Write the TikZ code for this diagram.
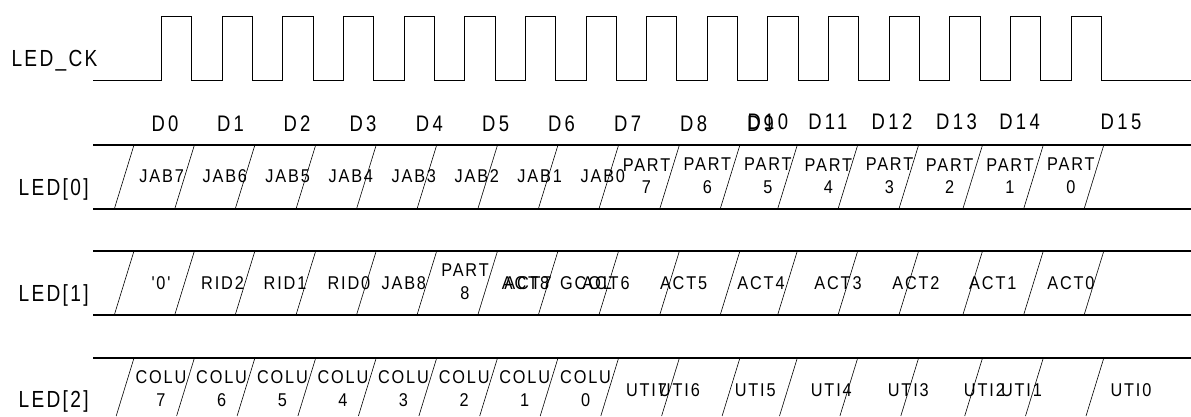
\documentclass[tikz,border=0pt]{standalone}
\usepackage{fontspec}
\setmainfont{Liberation Sans}
\newfontfamily\ledfont[LetterSpace=10,FakeStretch=0.82]{Liberation Sans}
\newfontfamily\tallfont[LetterSpace=15,FakeStretch=0.82]{Liberation Sans}
\newfontfamily\narrowfont[LetterSpace=10,FakeStretch=0.88]{Liberation Sans}
\newcommand{\ledsig}{\fontsize{23.3}{24}\ledfont}
\newcommand{\dsig}{\fontsize{22.5}{24}\tallfont}
\newcommand{\bitsig}{\fontsize{18.5}{22.6}\narrowfont}

\tikzset{
  ledtext/.style={anchor=base,inner sep=0pt,font=\ledsig},
  dtext/.style={anchor=base,inner sep=0pt,font=\dsig},
  bittext/.style={anchor=base,inner sep=0pt,font=\bitsig},
  twoline/.style={anchor=center,inner sep=0pt,align=center,font=\bitsig},
  bus/.style={line width=1.6pt},
  slant/.style={line width=0.6pt}
}

\begin{document}
\begin{tikzpicture}[x=1pt,y=-1pt]
   \useasboundingbox (0,0) rectangle (1191,416);

   % clock
   \coordinate (ckstart) at (93,80);
   \coordinate (ckend) at (1191,80);
   \draw [line width=0.7pt] (ckstart)
      \foreach \k in {0,...,15}{
         -- ({161.5+60.63*\k},80) -- ({161.5+60.63*\k},16)
         -- ({191.7+60.63*\k},16) -- ({191.7+60.63*\k},80)
      } -- (ckend);

   % bus lines
   \draw [bus] (93,145) -- (1191,145);
   \draw [bus] (93,209) -- (1191,209);
   \draw [bus] (93,251) -- (1191,251);
   \draw [bus] (93,315) -- (1191,315);
   \draw [bus] (93,358) -- (1191,358);

   % slants
   \foreach \x in {134,194.4,254.9,315.7,376.2,436.7,497.5,558,618.6,679.4,739.9,797.3,857.7,918.6,982.5,1043.3,1103.8}{
      \draw [slant] (\x,145) -- ({\x-19.7},209);
      \draw [slant] (\x,251) -- ({\x-19.7},315);
      \draw [slant] (\x,358) -- ({\x-17.8},416);
   }

   \node [ledtext] (ck) at (54.5,66) {LED\_CK};
   \node [ledtext] (led0) at (53.6,195) {LED[0]};
   \node [ledtext] (led1) at (53.6,301.7) {LED[1]};
   \node [ledtext] (led2) at (53.6,407.7) {LED[2]};

   \node [dtext] (D0) at (165,131) {D0};
   \node [dtext] (D1) at (230.5,131) {D1};
   \node [dtext] (D2) at (297,131) {D2};
   \node [dtext] (D3) at (363,131) {D3};
   \node [dtext] (D4) at (429.4,131) {D4};
   \node [dtext] (D5) at (495.6,131) {D5};
   \node [dtext] (D6) at (561.5,131) {D6};
   \node [dtext] (D7) at (627.7,131) {D7};
   \node [dtext] (D8) at (693.6,131) {D8};
   \node [dtext] (D9) at (760.5,131) {D9};
   \node [dtext] (D10) at (767.8,129.3) {D10};
   \node [dtext] (D11) at (827.9,129.3) {D11};
   \node [dtext] (D12) at (892,129.3) {D12};
   \node [dtext] (D13) at (956.5,129.3) {D13};
   \node [dtext] (D14) at (1019.6,129.3) {D14};
   \node [dtext] (D15) at (1121,129.3) {D15};

   \node [bittext] (jab7) at (161.6,182.3) {JAB7};
   \node [bittext] (jab6) at (224.8,182.3) {JAB6};
   \node [bittext] (jab5) at (287.6,182.3) {JAB5};
   \node [bittext] (jab4) at (350.8,182.3) {JAB4};
   \node [bittext] (jab3) at (413.8,182.3) {JAB3};
   \node [bittext] (jab2) at (476.8,182.3) {JAB2};
   \node [bittext] (jab1) at (539.7,182.3) {JAB1};
   \node [bittext] (jab0) at (602.8,182.3) {JAB0};
   \node [twoline] (part7) at (646.5,176) {PART\\7};
   \node [twoline] (part6) at (707.3,176) {PART\\6};
   \node [twoline] (part5) at (767.8,176) {PART\\5};
   \node [twoline] (part4) at (828.3,176) {PART\\4};
   \node [twoline] (part3) at (889.5,176) {PART\\3};
   \node [twoline] (part2) at (949.6,176) {PART\\2};
   \node [twoline] (part1) at (1010,176) {PART\\1};
   \node [twoline] (part0) at (1070.9,176) {PART\\0};

   \node [bittext] (zero) at (161,289.3) {'0'};
   \node [bittext] (rid2) at (222.5,289.3) {RID2};
   \node [bittext] (rid1) at (285,289.3) {RID1};
   \node [bittext] (rid0) at (348.9,289.3) {RID0};
   \node [bittext] (jab8) at (403.8,289.3) {JAB8};
   \node [twoline] (part8) at (465,281.8) {PART\\8};
   \node [bittext] (act8) at (525.5,289.3) {ACT8};
   \node [bittext] (act7) at (528,289.3) {ACT7};
   \node [bittext] (gcol) at (586,289.3) {GCOL};
   \node [bittext] (act6) at (606,289.3) {ACT6};
   \node [bittext] (act5) at (683.6,289.3) {ACT5};
   \node [bittext] (act4) at (761,289.3) {ACT4};
   \node [bittext] (act3) at (838,289.3) {ACT3};
   \node [bittext] (act2) at (915.9,289.3) {ACT2};
   \node [bittext] (act1) at (992.8,289.3) {ACT1};
   \node [bittext] (act0) at (1070.9,289.3) {ACT0};

   \node [twoline] (colu7) at (161,388.5) {COLU\\7};
   \node [twoline] (colu6) at (221.6,388.5) {COLU\\6};
   \node [twoline] (colu5) at (282.4,388.5) {COLU\\5};
   \node [twoline] (colu4) at (342.9,388.5) {COLU\\4};
   \node [twoline] (colu3) at (403.4,388.5) {COLU\\3};
   \node [twoline] (colu2) at (464.2,388.5) {COLU\\2};
   \node [twoline] (colu1) at (524.7,388.5) {COLU\\1};
   \node [twoline] (colu0) at (585.6,388.5) {COLU\\0};
   \node [bittext] (uti7) at (646.5,396) {UTI7};
   \node [bittext] (uti6) at (679.4,396) {UTI6};
   \node [bittext] (uti5) at (755.2,396) {UTI5};
   \node [bittext] (uti4) at (831.3,396) {UTI4};
   \node [bittext] (uti3) at (908.3,396) {UTI3};
   \node [bittext] (uti2) at (984.4,396) {UTI2};
   \node [bittext] (uti1) at (1021.5,396) {UTI1};
   \node [bittext] (uti0) at (1131,396) {UTI0};
\end{tikzpicture}
\end{document}
